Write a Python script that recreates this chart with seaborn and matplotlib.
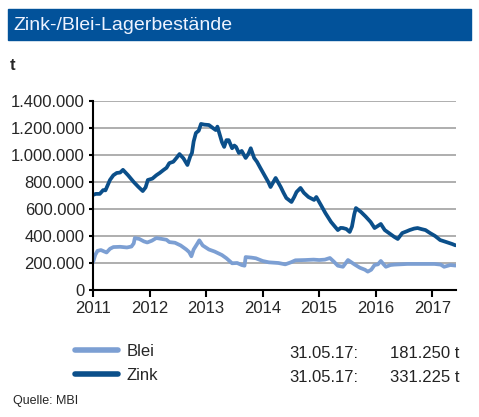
import matplotlib
matplotlib.use("Agg")
import matplotlib.pyplot as plt
from matplotlib.patches import Rectangle
from matplotlib.ticker import FuncFormatter
import seaborn as sns
import pandas as pd

# ---------------- data (values in tonnes, time in decimal years) ----------------
zink_t = [2011.00, 2011.05, 2011.12, 2011.18, 2011.22, 2011.30, 2011.36, 2011.42, 2011.48, 2011.53,
          2011.62, 2011.72, 2011.80, 2011.88, 2011.93, 2011.97, 2012.05, 2012.12, 2012.18, 2012.25,
          2012.30, 2012.35, 2012.42, 2012.48, 2012.53, 2012.60, 2012.67, 2012.72, 2012.75, 2012.78,
          2012.82, 2012.87, 2012.91, 2012.97, 2013.05, 2013.12, 2013.17, 2013.20, 2013.28, 2013.32,
          2013.36, 2013.40, 2013.46, 2013.50, 2013.53, 2013.58, 2013.63, 2013.70, 2013.75, 2013.79,
          2013.85, 2013.90, 2013.96, 2014.05, 2014.10, 2014.14, 2014.19, 2014.23, 2014.32, 2014.37,
          2014.42, 2014.51, 2014.56, 2014.60, 2014.67, 2014.73, 2014.81, 2014.91, 2014.95, 2015.03,
          2015.11, 2015.21, 2015.33, 2015.38, 2015.42, 2015.48, 2015.54, 2015.58, 2015.62, 2015.65,
          2015.74, 2015.82, 2015.91, 2015.98, 2016.04, 2016.09, 2016.16, 2016.24, 2016.33, 2016.39,
          2016.47, 2016.55, 2016.60, 2016.68, 2016.74, 2016.82, 2016.88, 2016.96, 2017.05, 2017.14,
          2017.25, 2017.35, 2017.41]
zink_v = [704, 712, 712, 740, 738, 815, 850, 867, 870, 890,
          850, 800, 765, 733, 760, 815, 825, 850, 867, 890,
          905, 940, 950, 980, 1007, 975, 926, 990, 1015, 1100,
          1163, 1180, 1230, 1225, 1222, 1200, 1185, 1210, 1096, 1060,
          1110, 1110, 1050, 1070, 1060, 1015, 1030, 978, 1010, 1050,
          978, 950, 904, 837, 800, 763, 800, 830, 763, 720,
          681, 652, 690, 726, 756, 720, 689, 667, 689, 630,
          570, 504, 444, 460, 459, 452, 430, 470, 560, 607,
          578, 545, 504, 459, 475, 489, 444, 420, 393, 378,
          422, 435, 444, 455, 459, 450, 444, 422, 400, 370,
          355, 341, 331]

blei_t = [2011.00, 2011.04, 2011.08, 2011.14, 2011.20, 2011.24, 2011.30, 2011.36, 2011.48, 2011.60,
          2011.68, 2011.72, 2011.74, 2011.82, 2011.90, 2011.96, 2012.04, 2012.12, 2012.22, 2012.30,
          2012.35, 2012.45, 2012.55, 2012.65, 2012.70, 2012.74, 2012.78, 2012.84, 2012.88, 2012.94,
          2013.05, 2013.15, 2013.28, 2013.36, 2013.46, 2013.55, 2013.63, 2013.68, 2013.70, 2013.80,
          2013.88, 2014.00, 2014.11, 2014.28, 2014.40, 2014.50, 2014.58, 2014.75, 2014.90, 2015.00,
          2015.10, 2015.19, 2015.26, 2015.33, 2015.42, 2015.51, 2015.57, 2015.63, 2015.72, 2015.81,
          2015.86, 2015.92, 2015.98, 2016.04, 2016.09, 2016.14, 2016.18, 2016.26, 2016.33, 2016.56,
          2016.80, 2017.04, 2017.15, 2017.21, 2017.32, 2017.41]
blei_v = [205, 260, 290, 296, 285, 278, 305, 318, 320, 315,
          322, 345, 385, 378, 360, 352, 365, 385, 378, 372,
          355, 350, 330, 300, 281, 250, 300, 340, 368, 330,
          300, 285, 259, 235, 198, 200, 185, 180, 244, 240,
          235, 215, 205, 200, 190, 205, 220, 222, 225, 222,
          225, 237, 210, 180, 172, 222, 205, 188, 165, 150,
          136, 150, 185, 190, 215, 190, 172, 185, 188, 193,
          193, 193, 188, 172, 185, 181]

series_names = ["Blei", "Zink"]
series_colors = ["#7c9fd3", "#0b4f8a"]
year_ticks = [2011, 2012, 2013, 2014, 2015, 2016, 2017]
y_ticks = [0, 200000, 400000, 600000, 800000, 1000000, 1200000, 1400000]
last_date = "31.05.17:"
last_values = ["181.250 t", "331.225 t"]

df = pd.concat([
    pd.DataFrame({"t": blei_t, "v": [x * 1000 for x in blei_v], "Metall": "Blei"}),
    pd.DataFrame({"t": zink_t, "v": [x * 1000 for x in zink_v], "Metall": "Zink"}),
])

# ---------------- style ----------------
sns.set_style("white")
plt.rcParams["font.family"] = ["Liberation Sans", "DejaVu Sans"]

fig = plt.figure(figsize=(4.79, 4.17), dpi=100)
ax = fig.add_axes([93 / 479, 1 - 290 / 417, (456 - 93) / 479, (290 - 101) / 417])

sns.lineplot(data=df, x="t", y="v", hue="Metall", hue_order=series_names,
             palette=series_colors, linewidth=2.7, ax=ax, legend=False,
             estimator=None, sort=True)

ax.set_xlim(2011, 2017.42)
ax.set_ylim(0, 1400000)
ax.set_xticks(year_ticks)
ax.set_xticklabels([str(y) for y in year_ticks])
ax.set_yticks(y_ticks)
ax.yaxis.set_major_formatter(FuncFormatter(lambda v, p: f"{int(v):,}".replace(",", ".")))
ax.set_xlabel("")
ax.set_ylabel("")
ax.grid(axis="y", color="#a8a8a8", linewidth=1.3)
ax.grid(axis="x", visible=False)
ax.set_axisbelow(True)
for s in ["top", "right"]:
    ax.spines[s].set_visible(False)
for s in ["left", "bottom"]:
    ax.spines[s].set_color("black")
    ax.spines[s].set_linewidth(1.5)
ax.tick_params(axis="x", direction="out", length=5, width=1.5, color="black",
               labelsize=12, pad=3, bottom=True)
ax.tick_params(axis="y", direction="out", length=3, width=1.5, color="black",
               labelsize=12, pad=3, left=True)

# ---------------- title bar ----------------
fig.patches.append(Rectangle((8 / 479, 1 - 40 / 417), 463 / 479, 31 / 417,
                             transform=fig.transFigure, color="#02529a", zorder=0))
fig.text(13 / 479, 1 - 25 / 417, "Zink-/Blei-Lagerbestände", color="#eef3ff",
         fontsize=14, va="center", ha="left")
fig.text(10 / 479, 1 - 66 / 417, "t", fontsize=12, fontweight="bold",
         va="center", ha="left")

# ---------------- legend ----------------
handles = ax.get_lines()[:2]
leg = fig.legend(handles, series_names, loc="upper left",
                 bbox_to_anchor=(75 / 479, 1 - 344 / 417), frameon=False,
                 fontsize=12, handlelength=2.6, handletextpad=0.5,
                 labelspacing=0.55, borderaxespad=0, borderpad=0)
for h in leg.legend_handles:
    h.set_linewidth(4)

for i, ypix in enumerate([353, 377]):
    fig.text(289 / 479, 1 - ypix / 417, last_date, fontsize=12, color="#222222",
             va="center", ha="left")
    fig.text(459 / 479, 1 - ypix / 417, last_values[i], fontsize=12, color="#222222",
             va="center", ha="right")

fig.text(13 / 479, 1 - 401 / 417, "Quelle: MBI", fontsize=9, va="center", ha="left")

fig.savefig("out.png", dpi=100)
